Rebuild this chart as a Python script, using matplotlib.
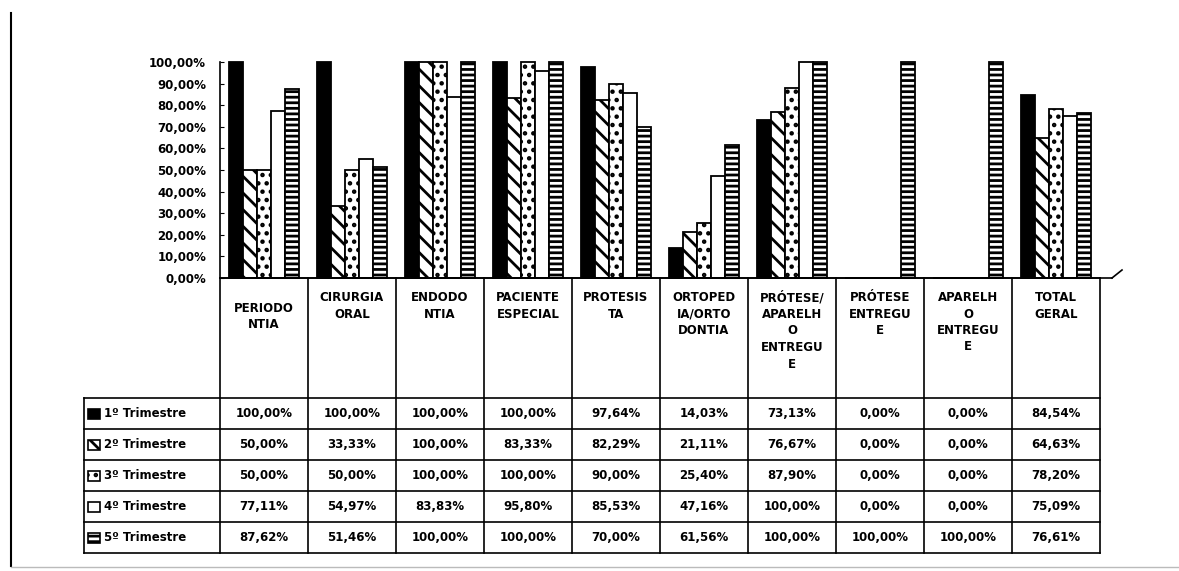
import matplotlib
matplotlib.use("Agg")
import matplotlib.pyplot as plt
from matplotlib.patches import Rectangle
import numpy as np

categories = ["PERIODO\nNTIA", "CIRURGIA\nORAL", "ENDODO\nNTIA", "PACIENTE\nESPECIAL",
              "PROTESIS\nTA", "ORTOPED\nIA/ORTO\nDONTIA", "PRÓTESE/\nAPARELH\nO\nENTREGU\nE",
              "PRÓTESE\nENTREGU\nE", "APARELH\nO\nENTREGU\nE", "TOTAL\nGERAL"]
series_names = ["1º Trimestre", "2º Trimestre", "3º Trimestre", "4º Trimestre", "5º Trimestre"]
t1 = [100.00, 100.00, 100.00, 100.00, 97.64, 14.03, 73.13, 0.00, 0.00, 84.54]
t2 = [50.00, 33.33, 100.00, 83.33, 82.29, 21.11, 76.67, 0.00, 0.00, 64.63]
t3 = [50.00, 50.00, 100.00, 100.00, 90.00, 25.40, 87.90, 0.00, 0.00, 78.20]
t4 = [77.11, 54.97, 83.83, 95.80, 85.53, 47.16, 100.00, 0.00, 0.00, 75.09]
t5 = [87.62, 51.46, 100.00, 100.00, 70.00, 61.56, 100.00, 100.00, 100.00, 76.61]
series = [t1, t2, t3, t4, t5]
yticks = [0, 10, 20, 30, 40, 50, 60, 70, 80, 90, 100]

styles = [dict(facecolor="black", hatch=None),
          dict(facecolor="white", hatch="\\\\"),
          dict(facecolor="white", hatch=".."),
          dict(facecolor="white", hatch=None),
          dict(facecolor="white", hatch="---")]

FONT = ["DejaVu Sans"]
plt.rcParams["font.family"] = FONT
plt.rcParams["hatch.linewidth"] = 2.0

W, H = 1179, 571
fig = plt.figure(figsize=(W / 100, H / 100), dpi=100)

# main bar axes: x from 220 to 1100 px, y 0% at 278 px, 100% at 62 px
left, right = 220, 1100
y0, y100 = 278, 62
ax = fig.add_axes([left / W, (H - y0) / H, (right - left) / W, (y0 - y100) / H])
ax.set_xlim(-0.5, len(categories) - 0.5)
ax.set_ylim(0, 100)

x = np.arange(len(categories))
bw = 0.16
for j, vals in enumerate(series):
    st = styles[j]
    ax.bar(x + (j - 2) * bw, vals, bw, facecolor=st["facecolor"], hatch=st["hatch"],
           edgecolor="black", linewidth=1.3, clip_on=False)

ax.set_yticks(yticks)
ax.set_yticklabels([f"{v:.2f}".replace(".", ",") + "%" for v in yticks],
                   fontsize=8.5, fontweight="bold")
ax.set_xticks([])
for s in ["top", "right"]:
    ax.spines[s].set_visible(False)
ax.spines["left"].set_linewidth(1.2)
ax.spines["bottom"].set_linewidth(1.2)
ax.tick_params(axis="y", direction="in", length=3, pad=10)
ax.patch.set_alpha(0)

# overlay in pixel coordinates for the data table
ov = fig.add_axes([0, 0, 1, 1])
ov.set_xlim(0, W)
ov.set_ylim(H, 0)
ov.axis("off")

def col_px(v):
    return ax.transData.transform((v, 0))[0]

bounds = [col_px(i - 0.5) for i in range(len(categories) + 1)]
centers = [col_px(i) for i in range(len(categories))]
label_left = 84
head_top, head_bot, row_h = 278, 398, 31
row_tops = [head_bot + k * row_h for k in range(len(series) + 1)]

lw = 1.2
for b in bounds:
    ov.plot([b, b], [head_top, row_tops[-1]], color="black", lw=lw)
ov.plot([bounds[0], bounds[-1]], [head_top, head_top], color="black", lw=lw)
ov.plot([label_left, label_left], [head_bot, row_tops[-1]], color="black", lw=lw)
for yt in row_tops:
    ov.plot([label_left, bounds[-1]], [yt, yt], color="black", lw=lw)
# little floor stub at the axis end
ov.plot([bounds[-1], 1112], [y0, y0], color="black", lw=lw)
ov.plot([1112, 1122], [y0, y0 - 8], color="black", lw=lw)

for i, cat in enumerate(categories):
    ytop = 302 if i == 0 else 291
    ov.text(centers[i], ytop, cat, ha="center", va="top", fontsize=8.5,
            fontweight="bold", linespacing=1.35)

for k, vals in enumerate(series):
    yc = (row_tops[k] + row_tops[k + 1]) / 2
    for i, v in enumerate(vals):
        ov.text(centers[i], yc, f"{v:.2f}".replace(".", ",") + "%", ha="center",
                va="center", fontsize=8.5, fontweight="bold")
    st = styles[k]
    ov.add_patch(Rectangle((88, yc - 5), 12, 10, facecolor=st["facecolor"],
                           hatch=st["hatch"], edgecolor="black", lw=1.2))
    ov.text(104, yc, series_names[k], ha="left", va="center", fontsize=8.5,
            fontweight="bold")

# page border lines from the scan
ov.plot([11, 11], [13, 566], color="black", lw=1.5)
ov.plot([11, 1179], [567, 567], color="#bbbbbb", lw=1.0)

fig.savefig("out.png", dpi=100)
